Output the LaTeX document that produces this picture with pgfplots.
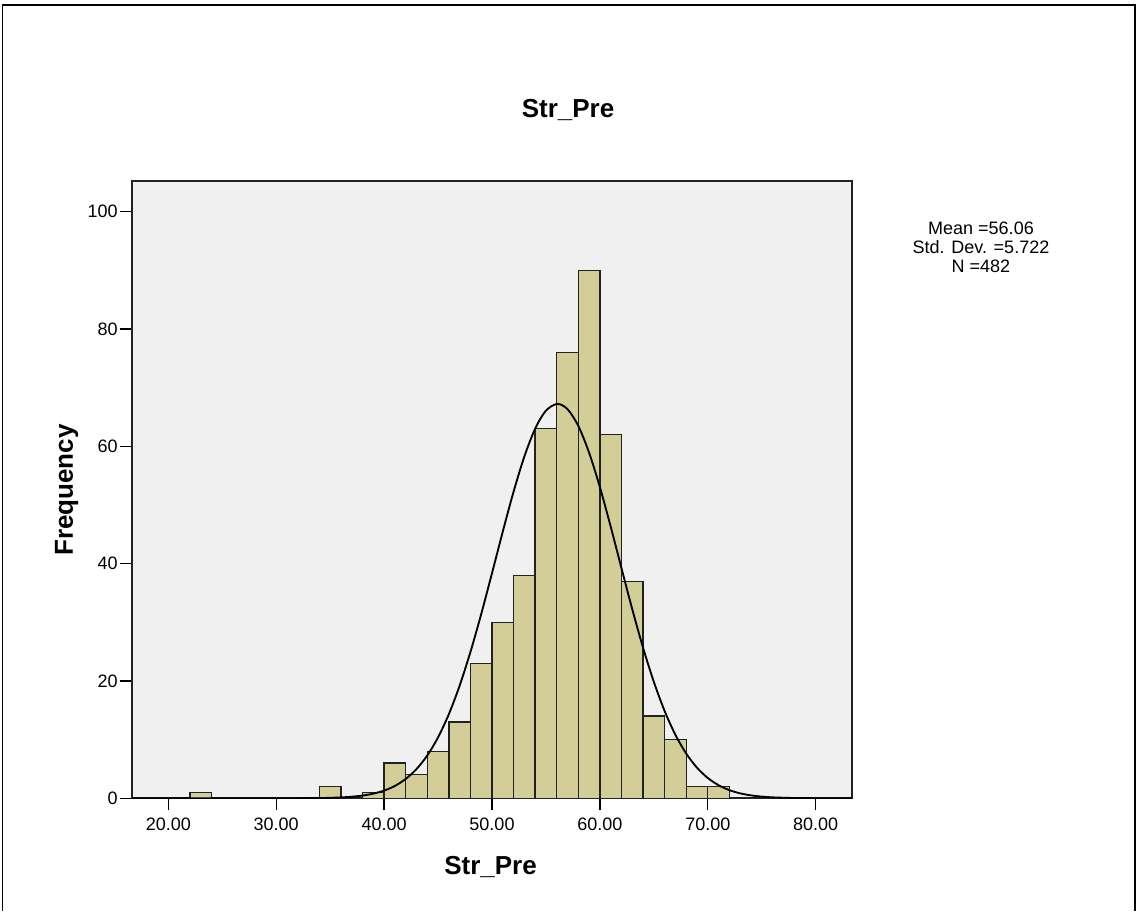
\documentclass[border=0pt]{standalone}
\usepackage{fontspec}
\setmainfont{Liberation Sans}
\usepackage{pgfplots}
\pgfplotsset{compat=1.18}

\definecolor{bgcol}{HTML}{F0F0F0}
\definecolor{barcol}{HTML}{D3CE98}
\definecolor{edgecol}{HTML}{222222}

\begin{document}
\begin{tikzpicture}
\begin{axis}[
    at={(0,0)}, anchor=south west,
    scale only axis, width=540pt, height=462.75pt,
    xmin=16.636, xmax=83.364, ymin=0, ymax=105.16,
    xtick={20,30,...,80}, ytick={0,20,...,100},
    scaled ticks=false,
    /pgf/number format/assume math mode=true,
    tick pos=left, tick align=outside,
    major tick length=9pt,
    every tick/.style={black, line width=1pt},
    axis line style={line width=1.3pt, color=edgecol},
    axis background/.style={fill=bgcol},
    tick label style={font=\fontsize{13.5}{16}\selectfont, inner sep=1.5pt},
    xticklabel style={/pgf/number format/fixed, /pgf/number format/fixed zerofill,
                      /pgf/number format/precision=2, yshift=-4pt},
]
% histogram (bin width 2)
\addplot[ybar interval, fill=barcol, draw=edgecol, line width=1pt]
  coordinates {(22,1) (24,0)};
\addplot[ybar interval, fill=barcol, draw=edgecol, line width=1pt]
  coordinates {(34,2) (36,0)};
\addplot[ybar interval, fill=barcol, draw=edgecol, line width=1pt]
  coordinates {(38,1) (40,6) (42,4) (44,8) (46,13) (48,23) (50,30) (52,38)
               (54,63) (56,76) (58,90) (60,62) (62,37) (64,14) (66,10)
               (68,2) (70,2) (72,0)};
% normal curve (mean 56.06, sd 5.722, N 482)
\addplot[smooth, black, line width=1.4pt] coordinates {
  (16.64,0) (20,0) (25,0) (28,0.001) (30,0.002) (32,0.010) (34,0.040) (35,0.077)
  (36,0.144) (37,0.262) (38,0.461) (39,0.789) (40,1.309) (41,2.105) (42,3.283)
  (43,4.969) (44,7.291) (45,10.379) (46,14.330) (47,19.187) (48,24.922)
  (49,31.395) (50,38.359) (51,45.460) (52,52.253) (53,58.255) (54,62.994)
  (55,66.068) (56.06,67.211) (57,66.310) (58,63.457) (59,58.900) (60,53.026)
  (61,46.301) (62,39.212) (63,32.211) (64,25.663) (65,19.831) (66,14.864)
  (67,10.806) (68,7.618) (69,5.210) (70,3.457) (71,2.224) (72,1.388)
  (73,0.840) (74,0.493) (75,0.281) (76,0.155) (78,0.043) (80,0.011) (83.36,0)};
\end{axis}
% title, axis labels, statistics
\node[anchor=base, font=\bfseries\fontsize{19.5}{23}\selectfont] at (327pt,510.2pt) {Str\_Pre};
\node[anchor=base, font=\bfseries\fontsize{19.5}{23}\selectfont] at (268.9pt,-57.5pt) {Str\_Pre};
\node[anchor=base, rotate=90, font=\bfseries\fontsize{19.5}{23}\selectfont] at (-44.25pt,231.2pt) {Frequency};
\node[anchor=base, font=\fontsize{13.5}{16}\selectfont] at (636.75pt,422.5pt) {Mean =56.06};
\node[anchor=base, font=\fontsize{13.5}{16}\selectfont] at (636.75pt,408.2pt) {Std. Dev. =5.722};
\node[anchor=base, font=\fontsize{13.5}{16}\selectfont] at (636.75pt,394.0pt) {N =482};
% outer frame
\draw[line width=1.3pt, black] (-97.1pt,-84.5pt) -- (-97.1pt,595pt) -- (752.25pt,595pt) -- (752.25pt,-84.5pt);
\useasboundingbox (-99pt,-84.5pt) rectangle (753pt,598.7pt);
\end{tikzpicture}
\end{document}
